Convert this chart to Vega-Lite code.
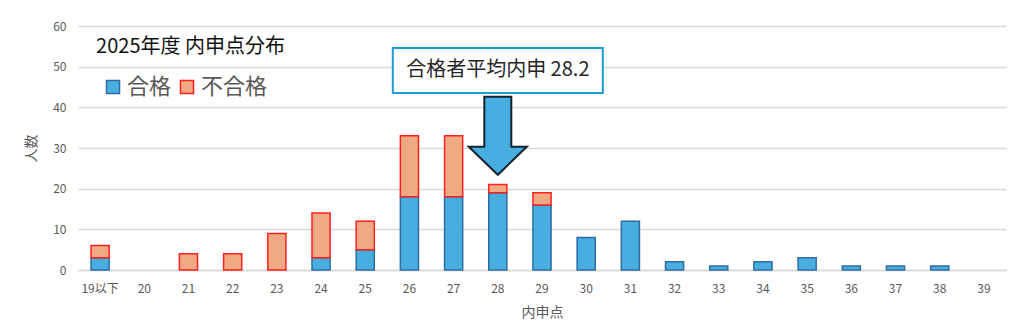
{
  "$schema": "https://vega.github.io/schema/vega-lite/v6.json",
  "width": 928,
  "height": 244,
  "autosize": {"type": "none"},
  "padding": {"left": 78, "top": 26, "right": 18, "bottom": 60},
  "background": "white",
  "config": {
    "font": "Noto Sans CJK JP",
    "view": {"stroke": null}
  },
  "datasets": {
    "scores": [
      {"score": "19以下", "result": "合格", "count": 3},
      {"score": "19以下", "result": "不合格", "count": 3},
      {"score": "21", "result": "不合格", "count": 4},
      {"score": "22", "result": "不合格", "count": 4},
      {"score": "23", "result": "不合格", "count": 9},
      {"score": "24", "result": "合格", "count": 3},
      {"score": "24", "result": "不合格", "count": 11},
      {"score": "25", "result": "合格", "count": 5},
      {"score": "25", "result": "不合格", "count": 7},
      {"score": "26", "result": "合格", "count": 18},
      {"score": "26", "result": "不合格", "count": 15},
      {"score": "27", "result": "合格", "count": 18},
      {"score": "27", "result": "不合格", "count": 15},
      {"score": "28", "result": "合格", "count": 19},
      {"score": "28", "result": "不合格", "count": 2},
      {"score": "29", "result": "合格", "count": 16},
      {"score": "29", "result": "不合格", "count": 3},
      {"score": "30", "result": "合格", "count": 8},
      {"score": "31", "result": "合格", "count": 12},
      {"score": "32", "result": "合格", "count": 2},
      {"score": "33", "result": "合格", "count": 1},
      {"score": "34", "result": "合格", "count": 2},
      {"score": "35", "result": "合格", "count": 3},
      {"score": "36", "result": "合格", "count": 1},
      {"score": "37", "result": "合格", "count": 1},
      {"score": "38", "result": "合格", "count": 1}
    ],
    "notes": [
      {"kind": "title", "score": "19以下", "value": 54.8, "label": "2025年度 内申点分布"},
      {"kind": "box", "score": "28", "value": 49.06, "label": "合格者平均内申 28.2"},
      {"kind": "arrow", "score": "28", "value": 33.0, "label": ""}
    ]
  },
  "encoding": {
    "x": {
      "field": "score",
      "type": "nominal",
      "scale": {
        "domain": ["19以下","20","21","22","23","24","25","26","27","28","29","30","31","32","33","34","35","36","37","38","39"],
        "paddingInner": 0.59,
        "paddingOuter": 0.295
      },
      "axis": {
        "title": "内申点",
        "titleFontSize": 14,
        "titleFontWeight": "normal",
        "titleColor": "#595959",
        "titlePadding": 11,
        "labelAngle": 0,
        "labelFontSize": 12,
        "labelColor": "#595959",
        "labelPadding": 13,
        "ticks": false,
        "domainColor": "#d9d9d9",
        "domainWidth": 1.5,
        "grid": false
      }
    }
  },
  "layer": [
    {
      "data": {"name": "scores"},
      "mark": {"type": "bar", "strokeWidth": 1.5},
      "encoding": {
        "y": {
          "field": "count",
          "type": "quantitative",
          "stack": "zero",
          "scale": {"domain": [0, 60]},
          "axis": {
            "title": "人数",
            "titleFontSize": 14,
            "titleFontWeight": "normal",
            "titleColor": "#595959",
            "titlePadding": 14,
            "values": [0, 10, 20, 30, 40, 50, 60],
            "labelFontSize": 12,
            "labelColor": "#595959",
            "labelPadding": 12,
            "ticks": false,
            "domain": false,
            "gridColor": "#d9d9d9",
            "gridWidth": 1.5
          }
        },
        "fill": {
          "field": "result",
          "type": "nominal",
          "scale": {"domain": ["合格", "不合格"], "range": ["#47AEDF", "#F1A983"]},
          "legend": {
            "title": null,
            "orient": "none",
            "legendX": 24,
            "legendY": 50,
            "direction": "horizontal",
            "columns": 2,
            "symbolType": "square",
            "symbolSize": 170,
            "symbolStrokeWidth": 1.5,
            "labelFontSize": 22,
            "labelColor": "#595959",
            "labelOffset": 3,
            "columnPadding": 4
          }
        },
        "stroke": {
          "field": "result",
          "type": "nominal",
          "scale": {"domain": ["合格", "不合格"], "range": ["#2E6DA4", "#FF2020"]},
          "legend": {
            "title": null,
            "orient": "none",
            "legendX": 24,
            "legendY": 50,
            "direction": "horizontal",
            "columns": 2,
            "symbolType": "square",
            "symbolSize": 170,
            "symbolStrokeWidth": 1.5,
            "labelFontSize": 22,
            "labelColor": "#595959",
            "labelOffset": 3,
            "columnPadding": 4
          }
        },
        "order": {"field": "result", "sort": "descending"}
      }
    },
    {
      "data": {"name": "notes"},
      "transform": [{"filter": "datum.kind === 'title'"}],
      "mark": {"type": "text", "align": "left", "baseline": "middle", "dx": -4, "fontSize": 20, "color": "#111111"},
      "encoding": {
        "y": {"field": "value", "type": "quantitative"},
        "text": {"field": "label"}
      }
    },
    {
      "data": {"name": "notes"},
      "transform": [{"filter": "datum.kind === 'box'"}],
      "mark": {
        "type": "point",
        "shape": "M-1,-0.2143L1,-0.2143L1,0.2143L-1,0.2143Z",
        "size": 44100,
        "filled": true,
        "fill": "white",
        "stroke": "#1F9BD7",
        "strokeWidth": 2,
        "opacity": 1
      },
      "encoding": {
        "y": {"field": "value", "type": "quantitative"}
      }
    },
    {
      "data": {"name": "notes"},
      "transform": [{"filter": "datum.kind === 'box'"}],
      "mark": {"type": "text", "align": "center", "baseline": "middle", "fontSize": 20, "color": "#262626"},
      "encoding": {
        "y": {"field": "value", "type": "quantitative"},
        "text": {"field": "label"}
      }
    },
    {
      "data": {"name": "notes"},
      "transform": [{"filter": "datum.kind === 'arrow'"}],
      "mark": {
        "type": "point",
        "shape": "M-0.346,-1L0.346,-1L0.346,0.282L0.744,0.282L0,1L-0.744,0.282L-0.346,0.282Z",
        "size": 6084,
        "filled": true,
        "fill": "#47AEDF",
        "stroke": "#13242F",
        "strokeWidth": 2,
        "opacity": 1
      },
      "encoding": {
        "y": {"field": "value", "type": "quantitative"}
      }
    }
  ]
}
